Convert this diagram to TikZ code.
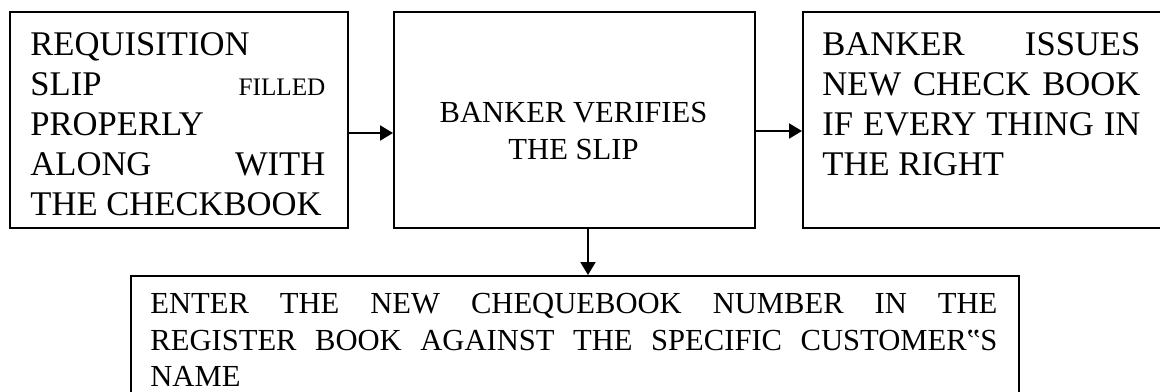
\documentclass[tikz,border=0pt]{standalone}
\usepackage{fontspec}
\setmainfont{Liberation Serif}
\usetikzlibrary{arrows.meta,positioning}

\begin{document}
\begin{tikzpicture}[x=0.5pt,y=-0.5pt,
    box/.style={draw,line width=1pt,anchor=north west,inner sep=0pt,minimum height=108pt},
    bigtxt/.style={inner sep=0pt,align=justify,font=\fontsize{17.3pt}{20pt}\selectfont},
    smalltxt/.style={inner sep=0pt,font=\fontsize{15.3pt}{18.2pt}\selectfont},
    flow/.style={-{Triangle[length=6.5pt,width=7.5pt]},line width=1pt}]

\useasboundingbox (0,0) rectangle (1160,391);

% Boxes
\node[box,minimum width=169pt] (slip) at (9,11) {};
\node[box,minimum width=180.5pt] (verify) at (393,11) {};
\node[box,minimum width=190pt] (issue) at (802,11) {};
\node[box,minimum width=444pt,minimum height=80pt] (register) at (130,275) {};

% Texts
\node[bigtxt,text width=147.5pt,below right=10.5pt and 10.5pt of slip.north west] (sliptxt)
    {REQUISITION\newline SLIP {\fontsize{12.6pt}{14pt}\selectfont FILLED}\linebreak PROPERLY\newline ALONG WITH\linebreak THE CHECKBOOK};
\node[smalltxt,align=center] (verifytxt) at (573.5,131) {BANKER VERIFIES\\THE SLIP};
\node[bigtxt,text width=159pt,below right=10.5pt and 10pt of issue.north west] (issuetxt)
    {BANKER ISSUES\linebreak NEW CHECK BOOK\linebreak IF EVERY THING IN\linebreak THE RIGHT};
\node[smalltxt,align=justify,text width=423.5pt,below right=9pt and 10pt of register.north west] (regtxt)
    {ENTER THE NEW CHEQUEBOOK NUMBER IN THE\linebreak REGISTER BOOK AGAINST THE SPECIFIC CUSTOMER‟S\linebreak NAME};

% Arrows
\draw[flow] ([yshift=-6.5pt]slip.east) -- ([yshift=-6.5pt]verify.west);
\draw[flow] ([yshift=-5.5pt]verify.east) -- ([yshift=-5.5pt]issue.west);
\draw[flow] ([xshift=6.75pt]verify.south) -- ([xshift=6.75pt]verify.south |- register.north);

\end{tikzpicture}
\end{document}
